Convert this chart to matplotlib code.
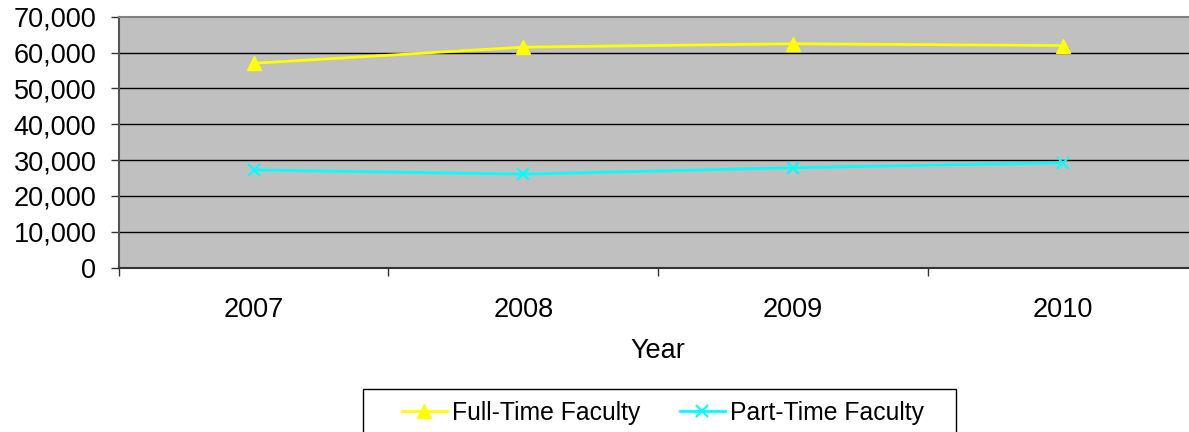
import matplotlib
matplotlib.use("Agg")
import matplotlib.pyplot as plt
from matplotlib.ticker import FuncFormatter, FixedLocator
from matplotlib.patches import Rectangle

years = ["2007", "2008", "2009", "2010"]
full_time = [57000, 61500, 62450, 61950]
part_time = [27250, 26050, 27850, 29250]
yticks = [0, 10000, 20000, 30000, 40000, 50000, 60000, 70000]

plt.rcParams['font.family'] = ['Liberation Sans', 'DejaVu Sans']
FS = 19.5
LFS = 17.8

W, H = 1189, 432
fig = plt.figure(figsize=(W / 100, H / 100), dpi=100)
left, right, top, bottom = 118.7, 1197.5, 16.7, 267.5
ax = fig.add_axes([left / W, 1 - bottom / H, (right - left) / W, (bottom - top) / H])
ax.set_facecolor('#C0C0C0')

x = list(range(len(years)))
l1, = ax.plot(x, full_time, color='#FFFF00', lw=2, marker='^', ms=10, mec='#FFFF00', mfc='#FFFF00', label='Full-Time Faculty', zorder=3)
l2, = ax.plot(x, part_time, color='#00FFFF', lw=2, marker='x', ms=9, mew=1.5, label='Part-Time Faculty', zorder=3)

ax.set_xlim(-0.5, len(years) - 0.5)
ax.set_ylim(0, 70000)
ax.set_yticks(yticks)
ax.yaxis.set_major_formatter(FuncFormatter(lambda v, p: f"{int(v):,}"))
ax.set_xticks(x)
ax.set_xticklabels(years)
ax.xaxis.set_minor_locator(FixedLocator([i - 0.5 for i in range(len(years) + 1)]))
ax.tick_params(axis='x', which='major', length=0, pad=21, labelsize=FS)
ax.tick_params(axis='x', which='minor', length=6, width=1, color='#333333')
ax.tick_params(axis='y', length=6, width=1, color='#333333', labelsize=FS, pad=10)

for v in yticks[1:-1]:
    ax.axhline(v, color='#000000', lw=1, zorder=1)

ax.spines['right'].set_visible(False)
ax.spines['top'].set_color('#808080')
ax.spines['top'].set_linewidth(1.5)
ax.spines['left'].set_color('#555555')
ax.spines['left'].set_linewidth(1.5)
ax.spines['bottom'].set_color('#333333')
ax.spines['bottom'].set_linewidth(1.5)

ax.set_xlabel('Year', fontsize=FS, labelpad=11)

# legend box (drawn as a plain rectangle) and entries
fig.patches.append(Rectangle((363 / W, 1 - 434 / H), (956 - 363) / W, 45 / H,
                             transform=fig.transFigure, facecolor='white',
                             edgecolor='#000000', lw=1, zorder=0))
leg = fig.legend(handles=[l1, l2], loc='center left',
                 bbox_to_anchor=(402 / W, 1 - 413 / H), ncol=2, fontsize=LFS,
                 frameon=False, handlelength=1.82, handletextpad=0.2,
                 columnspacing=1.6, borderpad=0, borderaxespad=0)

fig.savefig('out.png', dpi=100)
